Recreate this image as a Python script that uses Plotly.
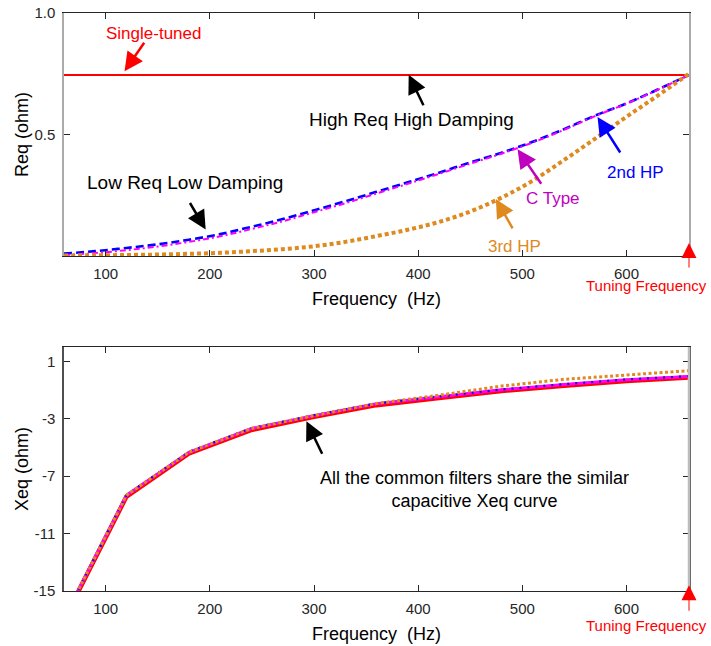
import plotly.graph_objects as go

FONT = "Liberation Sans"

# ---- Equivalent resistance Req (ohm) of the four filter types ----
freq_req = [60, 90, 120, 150, 180, 210, 240, 270, 300, 330, 360,
            390, 420, 450, 480, 510, 540, 570, 600, 630, 660]
req_2nd_hp = [0.010, 0.020, 0.033, 0.048, 0.067, 0.090, 0.120, 0.152, 0.188, 0.225, 0.264,
              0.303, 0.343, 0.385, 0.425, 0.470, 0.522, 0.578, 0.628, 0.685, 0.745]
req_c_type = [0.004, 0.012, 0.024, 0.039, 0.058, 0.081, 0.111, 0.143, 0.180, 0.217, 0.257,
              0.297, 0.338, 0.380, 0.421, 0.467, 0.519, 0.576, 0.627, 0.684, 0.745]
req_3rd_hp = [0.002, 0.003, 0.004, 0.006, 0.009, 0.013, 0.020, 0.028, 0.040, 0.058, 0.082,
              0.108, 0.140, 0.183, 0.240, 0.310, 0.395, 0.483, 0.573, 0.660, 0.750]
freq_single = [60, 660]
req_single = [0.745, 0.745]

# ---- Equivalent reactance Xeq (ohm) at the harmonic frequencies ----
freq_harm = [60, 120, 180, 240, 300, 360, 420, 480, 540, 600, 660]
xeq_single = [-17.0, -8.42, -5.42, -3.78, -2.86, -2.05, -1.56, -1.07, -0.69, -0.36, -0.13]
xeq_c_type = [-16.9, -8.33, -5.33, -3.68, -2.78, -1.95, -1.47, -0.98, -0.61, -0.28, -0.05]
xeq_2nd_hp = [-16.88, -8.30, -5.30, -3.65, -2.75, -1.93, -1.45, -0.96, -0.59, -0.26, -0.03]
xeq_3rd_hp = [-16.9, -8.33, -5.33, -3.68, -2.78, -1.93, -1.36, -0.72, -0.25, 0.07, 0.35]

freq_ticks = [100, 200, 300, 400, 500, 600]
req_ticks = [0.5, 1.0]
req_tick_text = ["0.5", "1.0"]
xeq_ticks = [-15, -11, -7, -3, 1]
xeq_tick_text = ["-15", "-11", "-7", "-3", "1"]

RED = "#FF0000"
BLUE = "#0000FF"
MAGENTA = "#FF00FF"
PURPLE = "#BF00BF"
ORANGE = "#DE8A1F"
INK = "#262626"

fig = go.Figure()

# Req panel
fig.add_trace(go.Scatter(x=freq_single, y=req_single, mode="lines",
                         line=dict(color=RED, width=2), xaxis="x", yaxis="y"))
fig.add_trace(go.Scatter(x=freq_req, y=req_2nd_hp, mode="lines", line_shape="spline",
                         line=dict(color=BLUE, width=2.6, dash="8px,4px"), xaxis="x", yaxis="y"))
fig.add_trace(go.Scatter(x=freq_req, y=req_c_type, mode="lines", line_shape="spline",
                         line=dict(color=MAGENTA, width=2, dash="6px,3px,2px,3px"), xaxis="x", yaxis="y"))
fig.add_trace(go.Scatter(x=freq_req, y=req_3rd_hp, mode="lines", line_shape="spline",
                         line=dict(color=ORANGE, width=4, dash="4px,3px"), xaxis="x", yaxis="y"))

# Xeq panel
fig.add_trace(go.Scatter(x=freq_harm, y=xeq_single, mode="lines",
                         line=dict(color=RED, width=4.5), xaxis="x2", yaxis="y2"))
fig.add_trace(go.Scatter(x=freq_harm, y=xeq_c_type, mode="lines",
                         line=dict(color=MAGENTA, width=3), xaxis="x2", yaxis="y2"))
fig.add_trace(go.Scatter(x=freq_harm, y=xeq_2nd_hp, mode="lines",
                         line=dict(color="#1010C0", width=2.2, dash="2px,6px"), xaxis="x2", yaxis="y2"))
fig.add_trace(go.Scatter(x=freq_harm, y=xeq_3rd_hp, mode="lines",
                         line=dict(color=ORANGE, width=3, dash="3px,2.5px"), xaxis="x2", yaxis="y2"))

tick_font = dict(family=FONT, size=15, color=INK)
title_font = dict(family=FONT, size=18, color="#000000")

def x_axis(anchor):
    return dict(anchor=anchor, domain=[0, 1], range=[60, 660], tickvals=freq_ticks,
                ticks="inside", ticklen=6, tickcolor=INK, showgrid=False, zeroline=False,
                showline=True, linecolor=INK, linewidth=1, mirror="ticks",
                tickfont=tick_font, ticklabelstandoff=4,
                title=dict(text="Frequency \u00a0(Hz)", font=title_font, standoff=11))

def y_axis(anchor, domain, rng, ticks, text, title, linecolor, standoff):
    return dict(anchor=anchor, domain=domain, range=rng, tickvals=ticks, ticktext=text,
                ticks="inside", ticklen=6, tickcolor=INK, showgrid=False, zeroline=False,
                showline=True, linecolor=linecolor, linewidth=1.5, mirror="ticks",
                tickfont=tick_font, ticklabelstandoff=4,
                title=dict(text=title, font=title_font, standoff=standoff))

def arrow(x, y, ax, ay, color, ref, width=2.5, size=1.5):
    return dict(x=x, y=y, ax=ax, ay=ay, xref="x" + ref, yref="y" + ref, text="",
                font=dict(size=1), borderpad=0,
                showarrow=True, arrowhead=2, arrowwidth=width, arrowsize=size,
                arrowcolor=color, standoff=0, startstandoff=0)

def label(x, y, text, color, size, ref):
    return dict(x=x, y=y, xref="x" + ref, yref="y" + ref, text=text, showarrow=False,
                font=dict(family=FONT, size=size, color=color),
                xanchor="center", yanchor="middle")

def paper_label(x, y, text, color, size):
    return dict(x=x, y=y, xref="paper", yref="paper", text=text, showarrow=False,
                font=dict(family=FONT, size=size, color=color),
                xanchor="center", yanchor="middle")

annotations = [
    label(146, 0.917, "Single-tuned", RED, 17, ""),
    arrow(118.1, 0.760, 20, -29, RED, ""),
    label(394, 0.560, "High Req High Damping", "#000000", 19, ""),
    arrow(390.9, 0.746, 15, 31, "#000000", ""),
    label(176, 0.302, "Low Req Low Damping", "#000000", 19, ""),
    arrow(196.0, 0.109, -16, -27, "#000000", ""),
    label(608.5, 0.345, "2nd HP", BLUE, 17, ""),
    arrow(572.2, 0.572, 23, 36, BLUE, ""),
    label(529.4, 0.235, "C Type", PURPLE, 17, ""),
    arrow(495.4, 0.439, 24, 35, PURPLE, ""),
    label(492.2, 0.039, "3rd HP", ORANGE, 17, ""),
    arrow(474.6, 0.235, 17, 30, ORANGE, ""),
    paper_label(0.932, 0.5285, "Tuning Frequency", RED, 15),
    arrow(660, 0.053, 0, 25, RED, "", width=1, size=3.0),
    label(454.1, -7.95, "All the common filters share the similar<br>capacitive Xeq curve",
          "#000000", 18, "2"),
    arrow(292.7, -3.17, 16, 33, "#000000", "2"),
    paper_label(0.932, -0.0597, "Tuning Frequency", RED, 15),
    arrow(660, -14.60, 0, 26, RED, "2", width=1, size=3.0),
]

fig.update_layout(
    width=711, height=646,
    margin=dict(l=64, r=22, t=13, b=55, autoexpand=False),
    paper_bgcolor="white", plot_bgcolor="white",
    showlegend=False,
    xaxis=x_axis("y"),
    yaxis=y_axis("x", [0.5796, 1.0], [0, 1.0], req_ticks, req_tick_text, "Req (ohm)", "#ababab", 1),
    xaxis2=x_axis("y2"),
    yaxis2=y_axis("x2", [0.0, 0.4221], [-15, 2], xeq_ticks, xeq_tick_text, "Xeq (ohm)", "#505050", 0),
    annotations=annotations,
    shapes=[dict(type="line", xref="x2 domain", yref="y2 domain", x0=1, x1=1, y0=0, y1=1,
                 line=dict(color="#bdbdbd", width=2.5), layer="above")],
)

fig.write_html("out.html")
